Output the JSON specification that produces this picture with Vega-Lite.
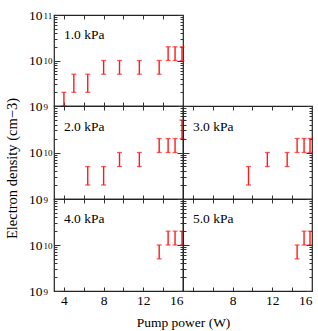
{
  "$schema": "https://vega.github.io/schema/vega-lite/v6.json",
  "padding": {"left": 3, "top": 7, "right": 1, "bottom": 2},
  "background": "white",
  "datasets": {
    "d": [
      {"p": "1.0 kPa", "power": 4.0, "lo": 1e9, "hi": 2e9},
      {"p": "1.0 kPa", "power": 5.0, "lo": 2e9, "hi": 5e9},
      {"p": "1.0 kPa", "power": 6.4, "lo": 2e9, "hi": 5e9},
      {"p": "1.0 kPa", "power": 8.0, "lo": 5e9, "hi": 1e10},
      {"p": "1.0 kPa", "power": 9.6, "lo": 5e9, "hi": 1e10},
      {"p": "1.0 kPa", "power": 11.6, "lo": 5e9, "hi": 1e10},
      {"p": "1.0 kPa", "power": 13.6, "lo": 5e9, "hi": 1e10},
      {"p": "1.0 kPa", "power": 14.5, "lo": 1e10, "hi": 2e10},
      {"p": "1.0 kPa", "power": 15.2, "lo": 1e10, "hi": 2e10},
      {"p": "1.0 kPa", "power": 15.9, "lo": 1e10, "hi": 2e10},
      {"p": "2.0 kPa", "power": 6.4, "lo": 2e9, "hi": 5e9},
      {"p": "2.0 kPa", "power": 8.0, "lo": 2e9, "hi": 5e9},
      {"p": "2.0 kPa", "power": 9.6, "lo": 5e9, "hi": 1e10},
      {"p": "2.0 kPa", "power": 11.6, "lo": 5e9, "hi": 1e10},
      {"p": "2.0 kPa", "power": 13.6, "lo": 1e10, "hi": 2e10},
      {"p": "2.0 kPa", "power": 14.5, "lo": 1e10, "hi": 2e10},
      {"p": "2.0 kPa", "power": 15.2, "lo": 1e10, "hi": 2e10},
      {"p": "2.0 kPa", "power": 15.9, "lo": 2e10, "hi": 5e10},
      {"p": "3.0 kPa", "power": 9.6, "lo": 2e9, "hi": 5e9},
      {"p": "3.0 kPa", "power": 11.5, "lo": 5e9, "hi": 1e10},
      {"p": "3.0 kPa", "power": 13.5, "lo": 5e9, "hi": 1e10},
      {"p": "3.0 kPa", "power": 14.5, "lo": 1e10, "hi": 2e10},
      {"p": "3.0 kPa", "power": 15.2, "lo": 1e10, "hi": 2e10},
      {"p": "3.0 kPa", "power": 15.8, "lo": 1e10, "hi": 2e10},
      {"p": "4.0 kPa", "power": 13.6, "lo": 5e9, "hi": 1e10},
      {"p": "4.0 kPa", "power": 14.5, "lo": 1e10, "hi": 2e10},
      {"p": "4.0 kPa", "power": 15.2, "lo": 1e10, "hi": 2e10},
      {"p": "4.0 kPa", "power": 15.9, "lo": 1e10, "hi": 2e10},
      {"p": "5.0 kPa", "power": 14.5, "lo": 5e9, "hi": 1e10},
      {"p": "5.0 kPa", "power": 15.2, "lo": 1e10, "hi": 2e10},
      {"p": "5.0 kPa", "power": 15.8, "lo": 1e10, "hi": 2e10}
    ]
  },
  "columns": 2,
  "spacing": 0,
  "bounds": "flush",
  "concat": [
    {
      "width": 129, "height": 91,
      "data": {"name": "d"},
      "transform": [{"filter": "datum.p == '1.0 kPa'"}],
      "resolve": {"axis": {"x": "independent", "y": "independent"}},
      "layer": [
        {
          "mark": {"type": "rule", "color": "#ff1a1a", "strokeWidth": 1.4},
          "encoding": {
            "x": {"field": "power", "type": "quantitative", "scale": {"domain": [3, 16]},
              "axis": {"orient": "bottom", "values": [4, 6, 8, 10, 12, 14, 16], "labels": false, "tickSize": -4, "title": null}},
            "y": {"field": "lo", "type": "quantitative", "scale": {"type": "log", "domain": [1e9, 1e11]},
              "axis": {"orient": "left", "values": [1e9, 2e9, 3e9, 4e9, 5e9, 6e9, 7e9, 8e9, 9e9, 1e10, 2e10, 3e10, 4e10, 5e10, 6e10, 7e10, 8e10, 9e10, 1e11],
                "labelExpr": "datum.value == 1e9 || datum.value == 1e10 || datum.value == 1e11 ? '10' : ''",
                "labelAlign": "left", "labelPadding": 31.5,
                "tickSize": {"condition": {"test": "datum.value == 1e9 || datum.value == 1e10 || datum.value == 1e11", "value": -6}, "value": -3},
                "title": null}},
            "y2": {"field": "hi"}
          }
        },
        {
          "mark": {"type": "tick", "color": "#ff1a1a", "orient": "horizontal", "size": 5, "thickness": 1.3},
          "encoding": {
            "x": {"field": "power", "type": "quantitative",
              "axis": {"orient": "top", "values": [4, 6, 8, 10, 12, 14, 16], "labels": false, "tickSize": -4, "title": null}},
            "y": {"field": "lo", "type": "quantitative",
              "axis": {"orient": "right", "values": [1e9, 2e9, 3e9, 4e9, 5e9, 6e9, 7e9, 8e9, 9e9, 1e10, 2e10, 3e10, 4e10, 5e10, 6e10, 7e10, 8e10, 9e10, 1e11], "labels": false,
                "tickSize": {"condition": {"test": "datum.value == 1e9 || datum.value == 1e10 || datum.value == 1e11", "value": -6}, "value": -3},
                "title": null}}
          }
        },
        {
          "mark": {"type": "tick", "color": "#ff1a1a", "orient": "horizontal", "size": 5, "thickness": 1.3},
          "encoding": {
            "x": {"field": "power", "type": "quantitative", "axis": null},
            "y": {"field": "hi", "type": "quantitative",
              "axis": {"orient": "left", "values": [1e9, 1e10, 1e11], "ticks": false,
                "labelExpr": "datum.value == 1e9 ? '9' : datum.value == 1e10 ? '10' : '11'",
                "labelAlign": "left", "labelPadding": 11, "labelFontSize": 9, "labelDy": -5, "title": null}}
          }
        },
        {
          "data": {"values": [{"label": "1.0 kPa"}]},
          "mark": {"type": "text", "align": "left", "baseline": "middle", "font": "Liberation Serif", "fontSize": 13.5},
          "encoding": {
            "x": {"datum": 4, "type": "quantitative", "axis": null},
            "y": {"datum": 3.6e10, "type": "quantitative", "axis": null},
            "text": {"field": "label"}
          }
        }
      ]
    },
    {
      "width": 129, "height": 91,
      "data": {"values": []},
      "mark": {"type": "point", "opacity": 0},
      "encoding": {},
      "view": {"stroke": null}
    },
    {
      "width": 129, "height": 93,
      "data": {"name": "d"},
      "transform": [{"filter": "datum.p == '2.0 kPa'"}],
      "resolve": {"axis": {"x": "independent", "y": "independent"}},
      "layer": [
        {
          "mark": {"type": "rule", "color": "#ff1a1a", "strokeWidth": 1.4},
          "encoding": {
            "x": {"field": "power", "type": "quantitative", "scale": {"domain": [3, 16]},
              "axis": {"orient": "bottom", "values": [4, 6, 8, 10, 12, 14, 16], "labels": false, "tickSize": -4, "title": null}},
            "y": {"field": "lo", "type": "quantitative", "scale": {"type": "log", "domain": [1e9, 1e11]},
              "axis": {"orient": "left", "values": [1e9, 2e9, 3e9, 4e9, 5e9, 6e9, 7e9, 8e9, 9e9, 1e10, 2e10, 3e10, 4e10, 5e10, 6e10, 7e10, 8e10, 9e10, 1e11],
                "labelExpr": "datum.value == 1e9 || datum.value == 1e10 ? '10' : ''",
                "labelAlign": "left", "labelPadding": 31.5,
                "tickSize": {"condition": {"test": "datum.value == 1e9 || datum.value == 1e10 || datum.value == 1e11", "value": -6}, "value": -3},
                "title": "Electron density (cm−3)", "titleY": 62, "titleX": -35, "titleFontSize": 14.5}},
            "y2": {"field": "hi"}
          }
        },
        {
          "mark": {"type": "tick", "color": "#ff1a1a", "orient": "horizontal", "size": 5, "thickness": 1.3},
          "encoding": {
            "x": {"field": "power", "type": "quantitative",
              "axis": {"orient": "top", "values": [4, 6, 8, 10, 12, 14, 16], "labels": false, "tickSize": -4, "title": null}},
            "y": {"field": "lo", "type": "quantitative",
              "axis": {"orient": "right", "values": [1e9, 2e9, 3e9, 4e9, 5e9, 6e9, 7e9, 8e9, 9e9, 1e10, 2e10, 3e10, 4e10, 5e10, 6e10, 7e10, 8e10, 9e10, 1e11], "labels": false,
                "tickSize": {"condition": {"test": "datum.value == 1e9 || datum.value == 1e10 || datum.value == 1e11", "value": -6}, "value": -3},
                "title": null}}
          }
        },
        {
          "mark": {"type": "tick", "color": "#ff1a1a", "orient": "horizontal", "size": 5, "thickness": 1.3},
          "encoding": {
            "x": {"field": "power", "type": "quantitative", "axis": null},
            "y": {"field": "hi", "type": "quantitative",
              "axis": {"orient": "left", "values": [1e9, 1e10], "ticks": false,
                "labelExpr": "datum.value == 1e9 ? '9' : '10'",
                "labelAlign": "left", "labelPadding": 11, "labelFontSize": 9, "labelDy": -5, "title": null}}
          }
        },
        {
          "data": {"values": [{"label": "2.0 kPa"}]},
          "mark": {"type": "text", "align": "left", "baseline": "middle", "font": "Liberation Serif", "fontSize": 13.5},
          "encoding": {
            "x": {"datum": 4, "type": "quantitative", "axis": null},
            "y": {"datum": 3.6e10, "type": "quantitative", "axis": null},
            "text": {"field": "label"}
          }
        }
      ]
    },
    {
      "width": 129, "height": 93,
      "data": {"name": "d"},
      "transform": [{"filter": "datum.p == '3.0 kPa'"}],
      "resolve": {"axis": {"x": "independent", "y": "independent"}},
      "layer": [
        {
          "mark": {"type": "rule", "color": "#ff1a1a", "strokeWidth": 1.4},
          "encoding": {
            "x": {"field": "power", "type": "quantitative", "scale": {"domain": [3, 16]},
              "axis": {"orient": "bottom", "values": [4, 6, 8, 10, 12, 14, 16], "labels": false, "tickSize": -4, "title": null}},
            "y": {"field": "lo", "type": "quantitative", "scale": {"type": "log", "domain": [1e9, 1e11]},
              "axis": {"orient": "left", "values": [1e9, 2e9, 3e9, 4e9, 5e9, 6e9, 7e9, 8e9, 9e9, 1e10, 2e10, 3e10, 4e10, 5e10, 6e10, 7e10, 8e10, 9e10, 1e11], "labels": false,
                "tickSize": {"condition": {"test": "datum.value == 1e9 || datum.value == 1e10 || datum.value == 1e11", "value": -6}, "value": -3},
                "title": null}},
            "y2": {"field": "hi"}
          }
        },
        {
          "mark": {"type": "tick", "color": "#ff1a1a", "orient": "horizontal", "size": 5, "thickness": 1.3},
          "encoding": {
            "x": {"field": "power", "type": "quantitative",
              "axis": {"orient": "top", "values": [4, 6, 8, 10, 12, 14, 16], "labels": false, "tickSize": -4, "title": null}},
            "y": {"field": "lo", "type": "quantitative",
              "axis": {"orient": "right", "values": [1e9, 2e9, 3e9, 4e9, 5e9, 6e9, 7e9, 8e9, 9e9, 1e10, 2e10, 3e10, 4e10, 5e10, 6e10, 7e10, 8e10, 9e10, 1e11], "labels": false,
                "tickSize": {"condition": {"test": "datum.value == 1e9 || datum.value == 1e10 || datum.value == 1e11", "value": -6}, "value": -3},
                "title": null}}
          }
        },
        {
          "mark": {"type": "tick", "color": "#ff1a1a", "orient": "horizontal", "size": 5, "thickness": 1.3},
          "encoding": {
            "x": {"field": "power", "type": "quantitative", "axis": null},
            "y": {"field": "hi", "type": "quantitative", "axis": null}
          }
        },
        {
          "data": {"values": [{"label": "3.0 kPa"}]},
          "mark": {"type": "text", "align": "left", "baseline": "middle", "font": "Liberation Serif", "fontSize": 13.5},
          "encoding": {
            "x": {"datum": 4, "type": "quantitative", "axis": null},
            "y": {"datum": 3.6e10, "type": "quantitative", "axis": null},
            "text": {"field": "label"}
          }
        }
      ]
    },
    {
      "width": 129, "height": 92,
      "data": {"name": "d"},
      "transform": [{"filter": "datum.p == '4.0 kPa'"}],
      "resolve": {"axis": {"x": "independent", "y": "independent"}},
      "layer": [
        {
          "mark": {"type": "rule", "color": "#ff1a1a", "strokeWidth": 1.4},
          "encoding": {
            "x": {"field": "power", "type": "quantitative", "scale": {"domain": [3, 16]},
              "axis": {"orient": "bottom", "values": [4, 6, 8, 10, 12, 14, 16], "labelExpr": "datum.value % 4 == 0 ? datum.label : ''", "tickSize": -4, "labelPadding": 6,
                "title": "Pump power (W)", "titleX": 129, "titlePadding": 9}},
            "y": {"field": "lo", "type": "quantitative", "scale": {"type": "log", "domain": [1e9, 1e11]},
              "axis": {"orient": "left", "values": [1e9, 2e9, 3e9, 4e9, 5e9, 6e9, 7e9, 8e9, 9e9, 1e10, 2e10, 3e10, 4e10, 5e10, 6e10, 7e10, 8e10, 9e10, 1e11],
                "labelExpr": "datum.value == 1e9 || datum.value == 1e10 ? '10' : ''",
                "labelAlign": "left", "labelPadding": 31.5,
                "tickSize": {"condition": {"test": "datum.value == 1e9 || datum.value == 1e10 || datum.value == 1e11", "value": -6}, "value": -3},
                "title": null}},
            "y2": {"field": "hi"}
          }
        },
        {
          "mark": {"type": "tick", "color": "#ff1a1a", "orient": "horizontal", "size": 5, "thickness": 1.3},
          "encoding": {
            "x": {"field": "power", "type": "quantitative",
              "axis": {"orient": "top", "values": [4, 6, 8, 10, 12, 14, 16], "labels": false, "tickSize": -4, "title": null}},
            "y": {"field": "lo", "type": "quantitative",
              "axis": {"orient": "right", "values": [1e9, 2e9, 3e9, 4e9, 5e9, 6e9, 7e9, 8e9, 9e9, 1e10, 2e10, 3e10, 4e10, 5e10, 6e10, 7e10, 8e10, 9e10, 1e11], "labels": false,
                "tickSize": {"condition": {"test": "datum.value == 1e9 || datum.value == 1e10 || datum.value == 1e11", "value": -6}, "value": -3},
                "title": null}}
          }
        },
        {
          "mark": {"type": "tick", "color": "#ff1a1a", "orient": "horizontal", "size": 5, "thickness": 1.3},
          "encoding": {
            "x": {"field": "power", "type": "quantitative", "axis": null},
            "y": {"field": "hi", "type": "quantitative",
              "axis": {"orient": "left", "values": [1e9, 1e10], "ticks": false,
                "labelExpr": "datum.value == 1e9 ? '9' : '10'",
                "labelAlign": "left", "labelPadding": 11, "labelFontSize": 9, "labelDy": -5, "title": null}}
          }
        },
        {
          "data": {"values": [{"label": "4.0 kPa"}]},
          "mark": {"type": "text", "align": "left", "baseline": "middle", "font": "Liberation Serif", "fontSize": 13.5},
          "encoding": {
            "x": {"datum": 4, "type": "quantitative", "axis": null},
            "y": {"datum": 3.6e10, "type": "quantitative", "axis": null},
            "text": {"field": "label"}
          }
        }
      ]
    },
    {
      "width": 129, "height": 92,
      "data": {"name": "d"},
      "transform": [{"filter": "datum.p == '5.0 kPa'"}],
      "resolve": {"axis": {"x": "independent", "y": "independent"}},
      "layer": [
        {
          "mark": {"type": "rule", "color": "#ff1a1a", "strokeWidth": 1.4},
          "encoding": {
            "x": {"field": "power", "type": "quantitative", "scale": {"domain": [3, 16]},
              "axis": {"orient": "bottom", "values": [4, 6, 8, 10, 12, 14, 16], "labelExpr": "datum.value % 4 == 0 && datum.value > 4 ? datum.label : ''", "tickSize": -4, "labelPadding": 6, "title": null}},
            "y": {"field": "lo", "type": "quantitative", "scale": {"type": "log", "domain": [1e9, 1e11]},
              "axis": {"orient": "left", "values": [1e9, 2e9, 3e9, 4e9, 5e9, 6e9, 7e9, 8e9, 9e9, 1e10, 2e10, 3e10, 4e10, 5e10, 6e10, 7e10, 8e10, 9e10, 1e11], "labels": false,
                "tickSize": {"condition": {"test": "datum.value == 1e9 || datum.value == 1e10 || datum.value == 1e11", "value": -6}, "value": -3},
                "title": null}},
            "y2": {"field": "hi"}
          }
        },
        {
          "mark": {"type": "tick", "color": "#ff1a1a", "orient": "horizontal", "size": 5, "thickness": 1.3},
          "encoding": {
            "x": {"field": "power", "type": "quantitative",
              "axis": {"orient": "top", "values": [4, 6, 8, 10, 12, 14, 16], "labels": false, "tickSize": -4, "title": null}},
            "y": {"field": "lo", "type": "quantitative",
              "axis": {"orient": "right", "values": [1e9, 2e9, 3e9, 4e9, 5e9, 6e9, 7e9, 8e9, 9e9, 1e10, 2e10, 3e10, 4e10, 5e10, 6e10, 7e10, 8e10, 9e10, 1e11], "labels": false,
                "tickSize": {"condition": {"test": "datum.value == 1e9 || datum.value == 1e10 || datum.value == 1e11", "value": -6}, "value": -3},
                "title": null}}
          }
        },
        {
          "mark": {"type": "tick", "color": "#ff1a1a", "orient": "horizontal", "size": 5, "thickness": 1.3},
          "encoding": {
            "x": {"field": "power", "type": "quantitative", "axis": null},
            "y": {"field": "hi", "type": "quantitative", "axis": null}
          }
        },
        {
          "data": {"values": [{"label": "5.0 kPa"}]},
          "mark": {"type": "text", "align": "left", "baseline": "middle", "font": "Liberation Serif", "fontSize": 13.5},
          "encoding": {
            "x": {"datum": 4, "type": "quantitative", "axis": null},
            "y": {"datum": 3.6e10, "type": "quantitative", "axis": null},
            "text": {"field": "label"}
          }
        }
      ]
    }
  ],
  "config": {
    "view": {"stroke": "#222", "strokeWidth": 1.2},
    "axis": {"labelFont": "Liberation Serif", "labelFontSize": 13.5, "labelColor": "#000", "titleFont": "Liberation Serif", "titleFontSize": 13.5, "titleFontWeight": "normal", "titleColor": "#000", "tickColor": "#333", "tickWidth": 1, "domain": false, "grid": false}
  }
}
